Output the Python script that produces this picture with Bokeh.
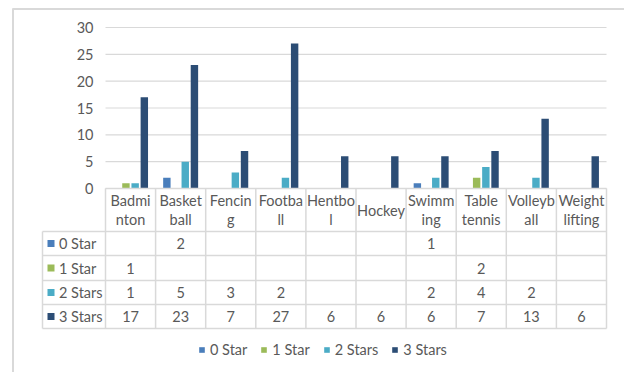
import math
from bokeh.plotting import figure
from bokeh.models import Range1d, ColumnDataSource, Legend, LegendItem
from bokeh.core.properties import value
from bokeh.transform import dodge
from bokeh.embed import file_html
from bokeh.resources import INLINE

# ---------------- data ----------------
categories = ["Badminton", "Basketball", "Fencing", "Football", "Hentbol",
              "Hockey", "Swimming", "Table tennis", "Volleyball", "Weightlifting"]
header_labels = ["Badmi\nnton", "Basket\nball", "Fencin\ng", "Footba\nll", "Hentbo\nl",
                 "Hockey", "Swimm\ning", "Table\ntennis", "Volleyb\nall", "Weight\nlifting"]
series_names = ["0 Star", "1 Star", "2 Stars", "3 Stars"]
star0 = [None, 2, None, None, None, None, 1, None, None, None]
star1 = [1, None, None, None, None, None, None, 2, None, None]
star2 = [1, 5, 3, 2, None, None, 2, 4, 2, None]
star3 = [17, 23, 7, 27, 6, 6, 6, 7, 13, 6]
y_ticks = [0, 5, 10, 15, 20, 25, 30]

series_values = [star0, star1, star2, star3]
colors = ["#4A7EBB", "#9BBB59", "#4BACC6", "#2C4D75"]

# ---------------- layout constants (pixels) ----------------
W, H = 624, 372
PX0 = 105.0          # left edge of first category
CW = 50.1            # category width in px
PY0 = 188.0          # pixel of value 0
UNIT = 161.0 / 30.0  # px per value unit
FONT = "Lato"
FS = "14.5px"
TXT = "#595959"
GRID = "#d9d9d9"

def X(px):
    return (px - PX0) / CW

def Y(py):
    return (PY0 - py) / UNIT

p = figure(width=W, height=H, output_backend="svg", toolbar_location=None,
           x_range=Range1d(X(0), X(W)), y_range=Range1d(Y(H), Y(0)),
           x_axis_location=None, y_axis_location=None, min_border=0)
p.grid.visible = False
p.outline_line_color = None
p.background_fill_color = "white"
p.border_fill_color = "white"

n = len(categories)
centers = [i + 0.5 for i in range(n)]

# chart border (left and top)
p.segment(x0=[X(12.5), X(12)], y0=[Y(8), Y(8.5)], x1=[X(12.5), X(W)], y1=[Y(H), Y(8.5)],
          line_color=GRID, line_width=2)

# horizontal gridlines
p.segment(x0=[0] * len(y_ticks), x1=[n] * len(y_ticks), y0=y_ticks, y1=y_ticks,
          line_color=GRID, line_width=1.2)

# y tick labels
p.text(x=[X(93)] * len(y_ticks), y=y_ticks, text=[str(t) for t in y_ticks],
       text_align="right", text_baseline="middle", text_color=TXT,
       text_font=value(FONT), text_font_size=FS)

# bars
offsets = [-0.275, -0.092, 0.092, 0.275]
bar_renderers = []
for j, vals in enumerate(series_values):
    xs = [centers[i] for i, v in enumerate(vals) if v is not None]
    tops = [v for v in vals if v is not None]
    src = ColumnDataSource(dict(xc=xs, top=tops))
    r = p.vbar(x=dodge("xc", offsets[j], range=p.x_range), top="top", bottom=0,
               width=0.148, source=src, fill_color=colors[j], line_color=None)
    bar_renderers.append(r)

# data table lines
row_edges = [231, 255, 280, 304, 328]
row_centers = [243, 267.5, 292, 316]
p.segment(x0=[X(42)] * len(row_edges) + [0], x1=[n] * (len(row_edges) + 1),
          y0=[Y(e) for e in row_edges] + [0], y1=[Y(e) for e in row_edges] + [0],
          line_color=GRID, line_width=1.5)
vx = [X(42)] + list(range(n + 1))
vtop = [Y(231)] + [0] * (n + 1)
p.segment(x0=vx, x1=vx, y0=vtop, y1=[Y(328)] * len(vx), line_color=GRID, line_width=1.5)

# header labels
p.text(x=centers, y=[Y(209.5)] * n, text=header_labels, text_align="center",
       text_baseline="middle", text_color=TXT, text_font=value(FONT),
       text_font_size=FS, text_line_height=1.1)

# row labels and keys
p.scatter(x=[X(50.5)] * 4, y=[Y(c) for c in row_centers], marker="square", size=7,
          fill_color=colors, line_color=None)
p.text(x=[X(58.5)] * 4, y=[Y(c) for c in row_centers], text=series_names,
       text_align="left", text_baseline="middle", text_color=TXT,
       text_font=value(FONT), text_font_size=FS)

# cell values
for j, vals in enumerate(series_values):
    xs = [centers[i] for i, v in enumerate(vals) if v is not None]
    ts = [str(v) for v in vals if v is not None]
    p.text(x=xs, y=[Y(row_centers[j])] * len(xs), text=ts, text_align="center",
           text_baseline="middle", text_color=TXT, text_font=value(FONT),
           text_font_size=FS)

# bottom legend
legend = Legend(items=[LegendItem(label=series_names[j], renderers=[bar_renderers[j]])
                       for j in range(4)],
                orientation="horizontal", location=(198, 14),
                glyph_width=7, glyph_height=7, label_standoff=5, spacing=13,
                padding=0, margin=0, border_line_color=None,
                background_fill_alpha=0, label_height=14,
                label_text_font=FONT, label_text_font_size=FS, label_text_color=TXT)
p.add_layout(legend)

open("out.html", "w").write(file_html(p, INLINE))
